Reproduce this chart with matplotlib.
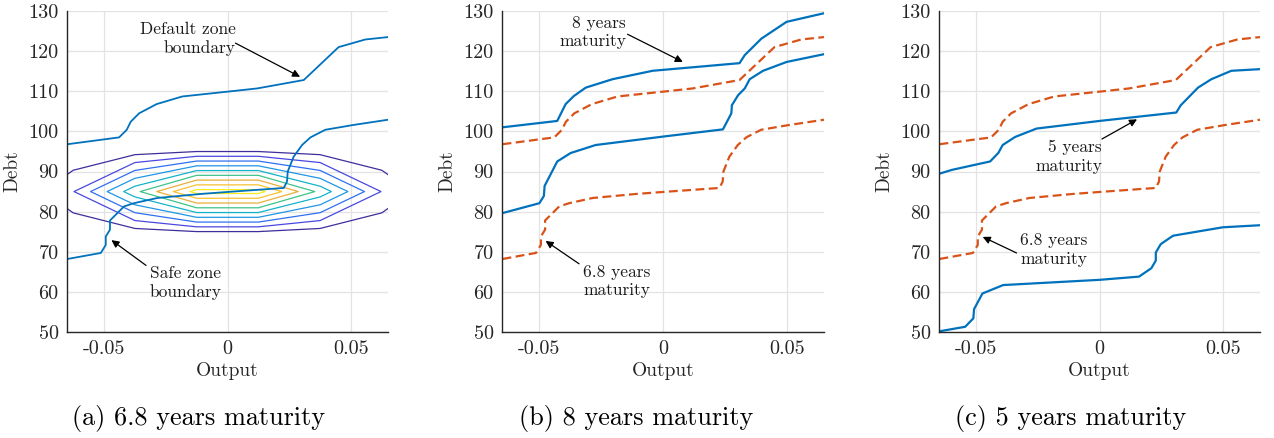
import numpy as np
import matplotlib
matplotlib.use("Agg")
from matplotlib import pyplot as plt

plt.rcParams['font.family'] = ['cmr10', 'DejaVu Serif']
plt.rcParams['axes.unicode_minus'] = False
plt.rcParams['mathtext.fontset'] = 'cm'

# ---- data ----
# 6.8 years maturity (baseline): default zone boundary (upper) and safe zone boundary (lower)
base_up_x = [-0.0648, -0.0439, -0.0408, -0.0392, -0.0358, -0.0287, -0.0183, 0.0, 0.012, 0.0309, 0.045, 0.0558, 0.065]
base_up_y = [96.8, 98.5, 100.4, 102.4, 104.5, 106.8, 108.7, 109.9, 110.7, 112.8, 121.0, 122.9, 123.5]
base_lo_x = [-0.0648, -0.0513, -0.0493, -0.0493, -0.0476, -0.0476, -0.0453, -0.0419, -0.0379, -0.0284, -0.0109,
             0.0, 0.0228, 0.0241, 0.0244, 0.0268, 0.0302, 0.0336, 0.0396, 0.051, 0.065]
base_lo_y = [68.2, 69.7, 71.7, 73.8, 75.5, 77.8, 79.2, 81.3, 82.1, 83.4, 84.4,
             84.9, 85.9, 87.5, 90.0, 93.7, 96.6, 98.5, 100.4, 101.6, 102.9]

# 8 years maturity
m8_up_x = [-0.065, -0.0427, -0.0393, -0.036, -0.0312, -0.0204, -0.0042, 0.0309, 0.033, 0.0397, 0.0499, 0.0647]
m8_up_y = [101.0, 102.6, 106.8, 108.8, 110.9, 113.0, 115.1, 117.0, 119.0, 123.1, 127.3, 129.4]
m8_lo_x = [-0.065, -0.0499, -0.0481, -0.0478, -0.0427, -0.0373, -0.0272, 0.0, 0.0242, 0.0276, 0.0278,
           0.0303, 0.033, 0.035, 0.0404, 0.0499, 0.0647]
m8_lo_y = [79.6, 82.1, 83.9, 86.4, 92.5, 94.6, 96.6, 98.7, 100.5, 104.5, 106.5,
           109.0, 110.7, 113.0, 115.1, 117.3, 119.2]

# 5 years maturity
m5_up_x = [-0.0646, -0.0598, -0.0443, -0.041, -0.0392, -0.0342, -0.0255, 0.0, 0.0311, 0.0329, 0.0399,
           0.0453, 0.0534, 0.0648]
m5_up_y = [89.5, 90.4, 92.5, 94.6, 96.6, 98.6, 100.7, 102.6, 104.7, 106.5, 110.9,
           113.0, 115.1, 115.5]
m5_lo_x = [-0.0646, -0.0544, -0.0511, -0.0508, -0.0474, -0.039, 0.0, 0.016, 0.021, 0.0228, 0.0228,
           0.0248, 0.0298, 0.05, 0.0648]
m5_lo_y = [50.2, 51.3, 53.4, 55.7, 59.6, 61.7, 63.0, 63.8, 65.9, 67.8, 69.8,
           71.9, 74.0, 76.1, 76.6]

# density of (output, debt) on a coarse grid
dens_x = [-0.0875, -0.0625, -0.0375, -0.0125, 0.0125, 0.0375, 0.0625, 0.0875]
dens_y = [65, 75, 85, 95, 105]
dens_row_65 = [0, 0, 0, 0, 0, 0, 0, 0]
dens_row_75 = [0, 0.16, 0.59, 0.98, 0.98, 0.59, 0.16, 0]
dens_row_85 = [0, 1.95, 5.68, 9.41, 9.41, 5.68, 1.95, 0]
dens_row_95 = [0, 0.16, 0.59, 0.98, 0.98, 0.59, 0.16, 0]
dens_row_105 = [0, 0, 0, 0, 0, 0, 0, 0]
dens_levels = [1, 2, 3, 4, 5, 6, 7, 8, 9]
dens_colors = ['#3f2e9c', '#4a48e0', '#2f70f0', '#1f96e6', '#13b3c9', '#3ec489',
               '#e8b03a', '#f7c230', '#f5ee1e']

xticks = [-0.05, 0, 0.05]
xticklabels = ['-0.05', '0', '0.05']
yticks = [50, 60, 70, 80, 90, 100, 110, 120, 130]
captions = ['(a) 6.8 years maturity', '(b) 8 years maturity', '(c) 5 years maturity']

BLUE = '#0072BD'
ORANGE = '#D95319'

W, H = 1274, 438
fig = plt.figure(figsize=(W / 100, H / 100), dpi=100)

def make_ax(left_px, right_px):
    ax = fig.add_axes([left_px / W, (H - 332) / H, (right_px - left_px) / W, 321 / H])
    ax.set_xlim(-0.065, 0.065)
    ax.set_ylim(50, 130)
    ax.set_xticks(xticks)
    ax.set_xticklabels(xticklabels)
    ax.set_yticks(yticks)
    ax.grid(True, color='#e3e3e3', lw=0.9)
    ax.set_axisbelow(True)
    for s in ['top', 'right']:
        ax.spines[s].set_visible(False)
    for s in ['left', 'bottom']:
        ax.spines[s].set_color('#262626')
        ax.spines[s].set_linewidth(1.0)
    ax.tick_params(direction='in', length=0, labelsize=14.5, colors='#262626', pad=6)
    ax.set_xlabel('Output', fontsize=14, color='#262626', labelpad=3)
    ax.set_ylabel('Debt', fontsize=14, color='#262626', labelpad=5)
    return ax

ARROW = dict(arrowstyle='-|>', color='black', lw=0.9, mutation_scale=11, shrinkA=0, shrinkB=0)
TXT = dict(va='center', fontsize=12.5, color='#1a1a1a', linespacing=1.25)

# ---- (a) ----
ax = make_ax(67, 388)
Z = np.array([dens_row_65, dens_row_75, dens_row_85, dens_row_95, dens_row_105])
ax.contour(dens_x, dens_y, Z, levels=dens_levels, colors=dens_colors, linewidths=0.9)
ax.plot(base_up_x, base_up_y, color=BLUE, lw=1.3)
ax.plot(base_lo_x, base_lo_y, color=BLUE, lw=1.3)
ax.text(0.0032, 123.0, 'Default zone\nboundary', ha='right', multialignment='right', **TXT)
ax.annotate('', xy=(0.0294, 113.6), xytext=(0.0032, 122.0), arrowprops=ARROW)
ax.text(-0.0169, 62.2, 'Safe zone\nboundary', ha='center', multialignment='center', **TXT)
ax.annotate('', xy=(-0.047, 72.9), xytext=(-0.033, 66.6), arrowprops=ARROW)

# ---- (b) ----
ax = make_ax(502, 824)
ax.plot(base_up_x, base_up_y, color=ORANGE, lw=1.6, dashes=(4, 2))
ax.plot(base_lo_x, base_lo_y, color=ORANGE, lw=1.6, dashes=(4, 2))
ax.plot(m8_up_x, m8_up_y, color=BLUE, lw=1.6)
ax.plot(m8_lo_x, m8_lo_y, color=BLUE, lw=1.6)
ax.text(-0.0149, 124.7, '8 years\nmaturity', ha='right', multialignment='right', **TXT)
ax.annotate('', xy=(0.0080, 117.3), xytext=(-0.0143, 124.2), arrowprops=ARROW)
ax.text(-0.0322, 62.7, '6.8 years\nmaturity', ha='left', multialignment='left', **TXT)
ax.annotate('', xy=(-0.0474, 72.7), xytext=(-0.0339, 67.0), arrowprops=ARROW)

# ---- (c) ----
ax = make_ax(939, 1260)
ax.plot(base_up_x, base_up_y, color=ORANGE, lw=1.6, dashes=(4, 2))
ax.plot(base_lo_x, base_lo_y, color=ORANGE, lw=1.6, dashes=(4, 2))
ax.plot(m5_up_x, m5_up_y, color=BLUE, lw=1.6)
ax.plot(m5_lo_x, m5_lo_y, color=BLUE, lw=1.6)
ax.text(0.001, 93.7, '5 years\nmaturity', ha='right', multialignment='right', **TXT)
ax.annotate('', xy=(0.0152, 103.0), xytext=(0.001, 98.1), arrowprops=ARROW)
ax.text(-0.032, 70.5, '6.8 years\nmaturity', ha='left', multialignment='left', **TXT)
ax.annotate('', xy=(-0.0473, 73.7), xytext=(-0.0336, 69.7), arrowprops=ARROW)

# captions
for cx, cap in zip([199, 636, 1071], captions):
    fig.text(cx / W, 1 - 418 / H, cap, ha='center', va='center', fontsize=18.9, color='black')

fig.savefig('out.png', dpi=100)
